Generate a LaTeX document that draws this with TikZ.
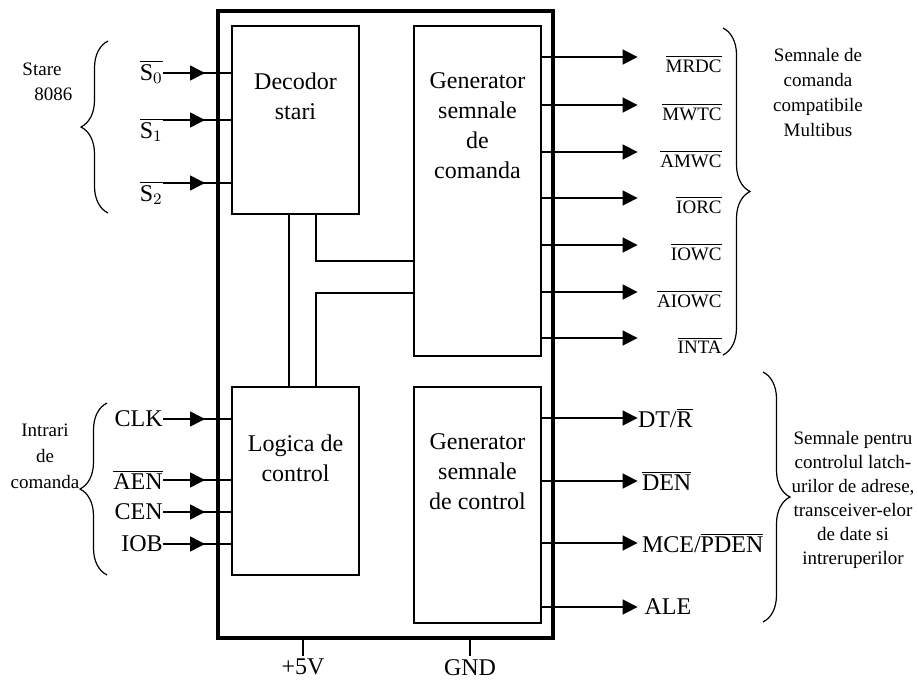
\documentclass[tikz,border=0pt]{standalone}
\usepackage{fontspec}
\setmainfont{Liberation Serif}
\usepackage{tikz}
\usetikzlibrary{arrows.meta,positioning,calc,decorations.pathreplacing}
\newcommand{\bigfont}{\fontsize{12}{15}\selectfont}
\newcommand{\smallfont}{\fontsize{9.5}{12.5}\selectfont}
\newcommand{\ovl}[1]{$\overline{\mbox{#1}}$}

\begin{document}
\begin{tikzpicture}[x=0.5pt, y=-0.5pt,
      chip/.style={draw, line width=1.6pt, minimum width=167.5pt, minimum height=313.5pt, inner sep=0pt},
      blk/.style={draw, line width=0.6pt, minimum width=63.5pt, inner sep=0pt},
      txt/.style={align=center, font=\bigfont, inner sep=0pt},
      note/.style={align=center, font=\smallfont, inner sep=0pt},
      pin/.style={font=\bigfont, inner sep=0pt},
      spin/.style={font=\smallfont, inner sep=0pt},
      sig/.style={-{Triangle[length=7.5pt,width=7.5pt]}, line width=0.8pt},
      wire/.style={line width=0.8pt},
      bus/.style={line width=0.6pt},
      brc/.style={decorate, decoration={brace, amplitude=13.5pt}, line width=0.6pt}
    ]
      \useasboundingbox (0,0) rectangle (918,681);

      % --- circuit and its four blocks ---
      \node[chip] (chip) at (385.5,324.5) {};
      \node[blk, minimum height=94pt]  (dec)   at (295.5,120) {};
      \node[blk, minimum height=165pt] (gcmd)  at (477.5,191) {};
      \node[blk, minimum height=94pt]  (logic) at (295.5,481) {};
      \node[blk, minimum height=118pt] (gctl)  at (477.5,505) {};

      \node[txt] (decT)   at (295.5,96)  {Decodor\\stari};
      \node[txt] (gcmdT)  at (477.5,126) {Generator\\semnale\\de\\comanda};
      \node[txt] (logicT) at (295.5,458) {Logica de\\control};
      \node[txt] (gctlT)  at (477.5,472) {Generator\\semnale\\de control};

      % --- links between blocks ---
      \draw[bus] ($(dec.south)+(-6.5,0)$) -- ($(logic.north)+(-6.5,0)$);
      \draw[bus] ($(dec.south)+(20.5,0)$) |- (gcmd.west |- 0,261);
      \draw[bus] ($(logic.north)+(20.5,0)$) |- (gcmd.west |- 0,293);

      % --- status inputs ---
      \node[pin, anchor=east]       (s0) at (163,72)  {$\overline{\mbox{S}_0}$};
      \node[pin, anchor=north east] (s1) at (163,118) {$\overline{\mbox{S}_1}$};
      \node[pin, anchor=north east] (s2) at (163,181) {$\overline{\mbox{S}_2}$};
      \foreach \s/\y in {s0/73, s1/120, s2/183} {
        \draw[sig] (163,\y) coordinate (\s a) -- ++(42,0);
        \draw[wire] (\s a) -- (dec.west |- \s a);
      }
      \draw[brc] (108,213) -- (108,41);
      \node[note] (stare) at (42,82) {Stare\\\hspace{1.2em}8086};

      % --- command inputs ---
      \foreach \p/\t/\y in {clk/CLK/419, aen/\ovl{AEN}/480, cen/CEN/512, iob/IOB/544} {
        \node[pin, anchor=east] (\p) at (163,\y) {\t};
        \draw[sig] (\p.east) -- ++(42,0);
        \draw[wire] (\p.east) -- (logic.west |- \p.east);
      }
      \draw[brc] (107,575) -- (107,403);
      \node[note, font=\fontsize{9.5}{13}\selectfont] (intr) at (45,456) {Intrari\\de\\comanda};

      % --- Multibus command outputs ---
      \foreach \p/\t/\y in {mrdc/MRDC/57, mwtc/MWTC/105, amwc/AMWC/152, iorc/IORC/198,
                           iowc/IOWC/245, aiowc/AIOWC/292, inta/INTA/338} {
        \coordinate (\p a) at (gcmd.east |- 0,\y);
        \draw[sig] (\p a) -- ++(96,0);
        \node[spin, anchor=east] (\p) at (722,\y+7) {\ovl{\t}};
      }
      \draw[brc] (723,28) -- (723,355);
      \node[note] (multi) at (818,92) {Semnale de\\comanda\\compatibile\\Multibus};

      % --- control outputs ---
      \foreach \p/\t/\y in {dtr/{DT/$\overline{\mbox{R}}$}/418, den/{\,\ovl{DEN}}/481,
                           mce/{\,MCE/\ovl{PDEN}}/543, ale/{\;ALE}/607} {
        \coordinate (\p a) at (gctl.east |- 0,\y);
        \draw[sig] (\p a) -- ++(96,0) coordinate (\p b);
        \node[pin, anchor=west] (\p) at (\p b) {\t};
      }
      \draw[brc] (763,372) -- (763,622);
      \node[note, font=\fontsize{9.5}{12}\selectfont] (latch) at (853,500)
        {Semnale pentru\\controlul latch-\\urilor de adrese,\\transceiver-elor\\de date si\\intreruperilor};

      % --- supply pins ---
      \draw[bus] (chip.south -| 303,0) -- ++(0,16) node[pin, below=1.5pt] (vcc) {+5V};
      \draw[bus] (chip.south -| 470,0) -- ++(0,16) node[pin, below=1.5pt] (gnd) {GND};
    \end{tikzpicture}
\end{document}
